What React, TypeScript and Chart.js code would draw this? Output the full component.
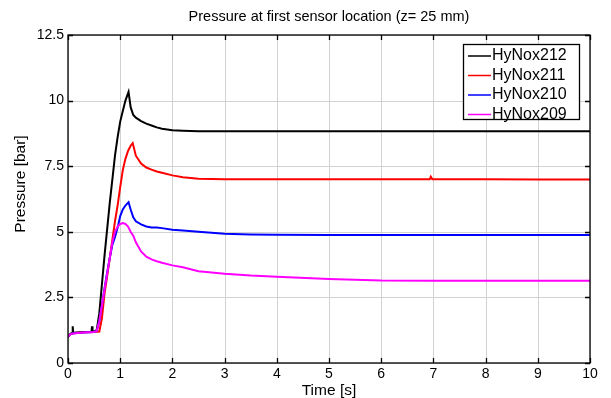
import { useEffect, useRef } from "react";
import { Chart, registerables } from "chart.js";

Chart.register(...registerables);

const TITLE = "Pressure at first sensor location (z= 25 mm)";
const X_TITLE = "Time [s]";
const Y_TITLE = "Pressure [bar]";
const SERIES_NAMES = ["HyNox212", "HyNox211", "HyNox210", "HyNox209"];
const COLORS = ["#000000", "#ff0000", "#0000ff", "#ff00ff"];
const X_TICKS = [0, 1, 2, 3, 4, 5, 6, 7, 8, 9, 10];
const Y_TICKS = [0, 2.5, 5, 7.5, 10, 12.5];

const t212 = [0, 0.05, 0.08, 0.09, 0.1, 0.3, 0.45, 0.46, 0.47, 0.5, 0.55, 0.6, 0.65, 0.7, 0.75, 0.8, 0.85, 0.9, 0.95, 1.0, 1.05, 1.1, 1.16, 1.2, 1.25, 1.3, 1.4, 1.5, 1.6, 1.7, 1.8, 2.0, 2.2, 2.5, 3, 4, 5, 6, 7, 8, 9, 10];
const p212 = [1.0, 1.12, 1.14, 1.4, 1.15, 1.18, 1.19, 1.4, 1.19, 1.2, 1.25, 1.9, 3.0, 4.1, 5.1, 6.1, 7.0, 7.9, 8.6, 9.2, 9.6, 10.0, 10.33, 9.75, 9.45, 9.35, 9.22, 9.12, 9.05, 8.98, 8.93, 8.87, 8.85, 8.83, 8.83, 8.83, 8.83, 8.83, 8.83, 8.83, 8.83, 8.83];

const t211 = [0, 0.05, 0.1, 0.3, 0.5, 0.55, 0.6, 0.65, 0.7, 0.75, 0.8, 0.85, 0.9, 0.95, 1.0, 1.05, 1.1, 1.15, 1.2, 1.24, 1.3, 1.4, 1.5, 1.6, 1.7, 1.8, 2.0, 2.2, 2.5, 3, 4, 5, 6, 6.93, 6.95, 6.98, 8, 9, 10];
const p211 = [1.0, 1.1, 1.13, 1.17, 1.18, 1.19, 1.2, 1.7, 2.65, 3.3, 4.0, 4.7, 5.4, 6.0, 6.7, 7.35, 7.78, 8.08, 8.28, 8.38, 7.9, 7.6, 7.45, 7.37, 7.3, 7.25, 7.15, 7.08, 7.02, 7.0, 7.0, 7.0, 7.0, 7.0, 7.1, 7.0, 7.0, 6.99, 6.99];

const t210 = [0, 0.05, 0.1, 0.3, 0.5, 0.55, 0.6, 0.65, 0.7, 0.75, 0.8, 0.85, 0.9, 0.95, 1.0, 1.05, 1.1, 1.16, 1.2, 1.25, 1.3, 1.4, 1.5, 1.6, 1.7, 1.8, 2.0, 2.2, 2.5, 3, 3.5, 4, 5, 6, 7, 8, 9, 10];
const p210 = [1.0, 1.1, 1.13, 1.16, 1.18, 1.22, 1.6, 2.2, 2.85, 3.45, 4.0, 4.5, 4.8, 5.15, 5.6, 5.85, 6.0, 6.13, 5.85, 5.55, 5.4, 5.28, 5.2, 5.16, 5.16, 5.14, 5.08, 5.05, 5.0, 4.93, 4.9, 4.89, 4.88, 4.88, 4.88, 4.88, 4.88, 4.88];

const t209 = [0, 0.05, 0.1, 0.3, 0.5, 0.55, 0.6, 0.65, 0.7, 0.75, 0.8, 0.85, 0.9, 0.95, 1.0, 1.05, 1.1, 1.15, 1.2, 1.25, 1.3, 1.4, 1.5, 1.6, 1.7, 1.8, 2.0, 2.2, 2.5, 3, 3.5, 4, 5, 6, 7, 8, 9, 10];
const p209 = [1.0, 1.1, 1.12, 1.16, 1.18, 1.22, 1.6, 2.2, 2.8, 3.4, 4.0, 4.6, 5.0, 5.2, 5.3, 5.33, 5.3, 5.2, 5.0, 4.85, 4.6, 4.25, 4.05, 3.95, 3.88, 3.82, 3.72, 3.65, 3.5, 3.4, 3.33, 3.29, 3.2, 3.14, 3.13, 3.13, 3.13, 3.13];

const SERIES_T = [t212, t211, t210, t209];
const SERIES_P = [p212, p211, p210, p209];

const FONT = "'Liberation Sans', Arial, sans-serif";

function drawGrid(chart: any) {
  const ctx = chart.ctx as CanvasRenderingContext2D;
  const a = chart.chartArea;
  const xs = chart.scales.x;
  const ys = chart.scales.y;
  ctx.save();
  ctx.strokeStyle = "#d2d2d2";
  ctx.lineWidth = 1;
  ctx.beginPath();
  X_TICKS.forEach((v) => {
    const px = Math.round(xs.getPixelForValue(v)) + 0.5;
    ctx.moveTo(px, a.top);
    ctx.lineTo(px, a.bottom);
  });
  Y_TICKS.forEach((v) => {
    const py = Math.round(ys.getPixelForValue(v)) + 0.5;
    ctx.moveTo(a.left, py);
    ctx.lineTo(a.right, py);
  });
  ctx.stroke();
  ctx.restore();
}

const gridPlugin = {
  id: "dotgrid",
  beforeDatasetsDraw(chart: any) {
    drawGrid(chart);
  },
};

const decorPlugin = {
  id: "decor",
  afterDraw(chart: any) {
    const ctx = chart.ctx as CanvasRenderingContext2D;
    const a = chart.chartArea;
    const xs = chart.scales.x;
    const ys = chart.scales.y;
    ctx.save();
    // frame
    ctx.strokeStyle = "#000";
    ctx.lineWidth = 1.3;
    ctx.strokeRect(a.left, a.top, a.right - a.left, a.bottom - a.top);
    // inner ticks
    const tl = 5;
    ctx.beginPath();
    X_TICKS.forEach((v) => {
      const px = Math.round(xs.getPixelForValue(v)) + 0.5;
      ctx.moveTo(px, a.bottom);
      ctx.lineTo(px, a.bottom - tl);
      ctx.moveTo(px, a.top);
      ctx.lineTo(px, a.top + tl);
    });
    Y_TICKS.forEach((v) => {
      const py = Math.round(ys.getPixelForValue(v)) + 0.5;
      ctx.moveTo(a.left, py);
      ctx.lineTo(a.left + tl, py);
      ctx.moveTo(a.right, py);
      ctx.lineTo(a.right - tl, py);
    });
    ctx.stroke();

    // title
    ctx.fillStyle = "#000";
    ctx.textAlign = "center";
    ctx.textBaseline = "middle";
    ctx.font = `14.5px ${FONT}`;
    ctx.fillText(TITLE, (a.left + a.right) / 2, 17);
    // x title
    ctx.font = `15.5px ${FONT}`;
    ctx.fillText(X_TITLE, (a.left + a.right) / 2, 391);
    // y title
    ctx.save();
    ctx.translate(21, 184);
    ctx.rotate(-Math.PI / 2);
    ctx.fillText(Y_TITLE, 0, 0);
    ctx.restore();

    // legend
    const lx = 463, ly = 44, lw = 116, lh = 75;
    ctx.fillStyle = "#fff";
    ctx.fillRect(lx, ly, lw, lh);
    ctx.strokeStyle = "#000";
    ctx.lineWidth = 1.3;
    ctx.strokeRect(lx + 0.5, ly + 0.5, lw, lh);
    ctx.font = `16px ${FONT}`;
    ctx.textAlign = "left";
    ctx.textBaseline = "middle";
    SERIES_NAMES.forEach((name, i) => {
      const yy = ly + 12 + i * 19.5;
      ctx.strokeStyle = COLORS[i];
      ctx.lineWidth = 1.5;
      ctx.beginPath();
      ctx.moveTo(lx + 5, yy);
      ctx.lineTo(lx + 28, yy);
      ctx.stroke();
      ctx.fillStyle = "#000";
      ctx.fillText(name, lx + 29, yy);
    });
    ctx.restore();
  },
};

export default function App() {
  const ref = useRef<HTMLCanvasElement | null>(null);
  useEffect(() => {
    if (!ref.current) return;
    const datasets = SERIES_NAMES.map((name, i) => ({
      label: name,
      data: SERIES_T[i].map((t, j) => ({ x: t, y: SERIES_P[i][j] })),
      borderColor: COLORS[i],
      backgroundColor: COLORS[i],
      borderWidth: 2,
      pointRadius: 0,
      tension: 0,
      fill: false,
    }));
    const chart = new Chart(ref.current, {
      type: "line",
      data: { datasets: datasets.slice().reverse() as any },
      options: {
        animation: false,
        responsive: false,
        maintainAspectRatio: false,
        layout: { padding: { top: 35, right: 21, left: 0, bottom: 0 } },
        plugins: {
          legend: { display: false },
          title: { display: false },
          tooltip: { enabled: false },
        },
        scales: {
          x: {
            type: "linear",
            min: 0,
            max: 10,
            afterFit: (s: any) => {
              s.height = 35;
            },
            afterBuildTicks: (s: any) => {
              s.ticks = X_TICKS.map((v) => ({ value: v }));
            },
            ticks: {
              color: "#000",
              font: { family: FONT, size: 14 },
              padding: 3,
              maxRotation: 0,
              callback: (v: any) => String(v),
            },
            grid: { display: false, drawTicks: false },
            border: { display: false },
          },
          y: {
            type: "linear",
            min: 0,
            max: 12.5,
            afterFit: (s: any) => {
              s.width = 68;
            },
            afterBuildTicks: (s: any) => {
              s.ticks = Y_TICKS.map((v) => ({ value: v }));
            },
            ticks: {
              color: "#000",
              font: { family: FONT, size: 14 },
              padding: 4,
              callback: (v: any) => String(v),
            },
            grid: { display: false, drawTicks: false },
            border: { display: false },
          },
        },
      },
      plugins: [gridPlugin, decorPlugin],
    });
    return () => chart.destroy();
  }, []);
  return (
    <div style={{ position: "absolute", left: 0, top: 0, width: 611, height: 398, background: "#fff" }}>
      <canvas ref={ref} width={611} height={398} style={{ width: 611, height: 398 }} />
    </div>
  );
}
